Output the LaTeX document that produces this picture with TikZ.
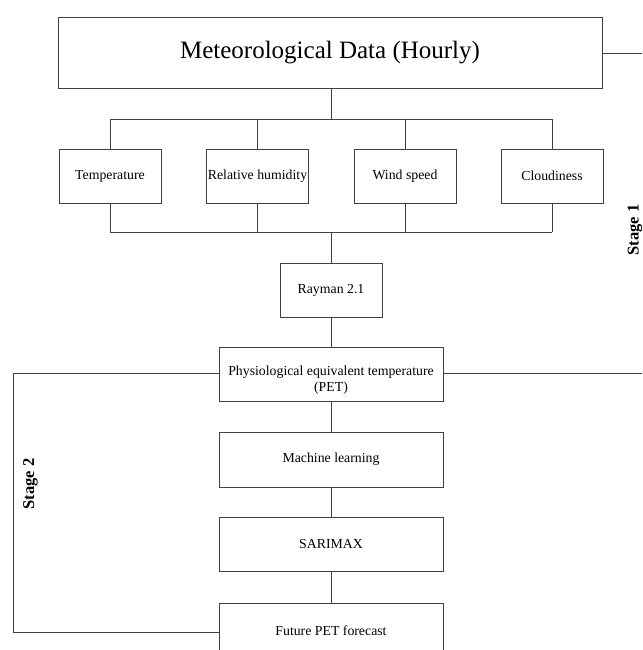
\documentclass[tikz,border=0pt]{standalone}
\usepackage{fontspec}
\setmainfont{Liberation Serif}
\begin{document}
\begin{tikzpicture}[x=1pt,y=-1pt,
  box/.style={draw=black!75, line width=0.9pt, inner sep=0pt, minimum height=54pt, font=\fontsize{13.8}{16.5}\selectfont, align=center},
  smallbox/.style={box, minimum width=102pt},
  widebox/.style={box, minimum width=224pt},
  conn/.style={draw=black!75, line width=0.9pt},
  stagelbl/.style={font=\fontsize{16.5}{19}\bfseries\selectfont, rotate=90, inner sep=0pt}]
\clip (0,0) rectangle (642,650);
\useasboundingbox (0,0) rectangle (642,650);

\node[box, minimum width=544pt, minimum height=71pt, font=\fontsize{25}{30}\selectfont] (title) at (330,52.5) {Meteorological Data (Hourly)};

\node[smallbox] (temp) at (110,176) {Temperature};
\node[smallbox] (rh) at (257.5,176) {Relative humidity};
\node[smallbox] (wind) at (405,176) {Wind speed};
\node[smallbox] (cloud) at (552,176) {Cloudiness};

\node[smallbox] (rayman) at (331,290) {Rayman 2.1};
\node[widebox] (pet) at (331,374) {};
\node[font=\fontsize{13.8}{16.5}\selectfont, align=center, inner sep=0pt] (pettext) at (331,380) {Physiological equivalent temperature\\(PET)};
\node[widebox, minimum height=55pt] (ml) at (331,459.5) {Machine learning};
\node[widebox] (sar) at (331,544) {SARIMAX};
\node[widebox, minimum height=56pt] (fut) at (331,631) {Future PET forecast};

% distribution bars
\coordinate (topL) at (110,119);
\coordinate (topR) at (552,119);
\coordinate (topM) at (331,119);
\coordinate (botL) at (110,232);
\coordinate (botR) at (552,232);
\coordinate (botM) at (331,232);

\draw[conn] (title.south -| topM) -- (topM);
\draw[conn] (topL) -- (topR);
\draw[conn] (botL) -- (botR);
\foreach \n in {temp,rh,wind,cloud}{
  \draw[conn] (\n.north) -- (\n.north |- topL);
  \draw[conn] (\n.south) -- (\n.south |- botL);
}
\draw[conn] (botM) -- (rayman.north);
\draw[conn] (rayman.south) -- (pet.north);
\draw[conn] (pet.south) -- (ml.north);
\draw[conn] (ml.south) -- (sar.north);
\draw[conn] (sar.south) -- (fut.north);

% Stage 1 bracket (right)
\coordinate (s1a) at (646,53);
\coordinate (s1b) at (646,373);
\draw[conn] (title.east |- s1a) -- (s1a) -- (s1b) -- (pet.east |- s1b);
\node[stagelbl] (stage1) at (635,230) {Stage 1};

% Stage 2 bracket (left)
\coordinate (s2a) at (13,373);
\coordinate (s2b) at (13,632);
\draw[conn] (pet.west |- s2a) -- (s2a) -- (s2b) -- (fut.west |- s2b);
\node[stagelbl] (stage2) at (30.5,484) {Stage 2};
\end{tikzpicture}
\end{document}
